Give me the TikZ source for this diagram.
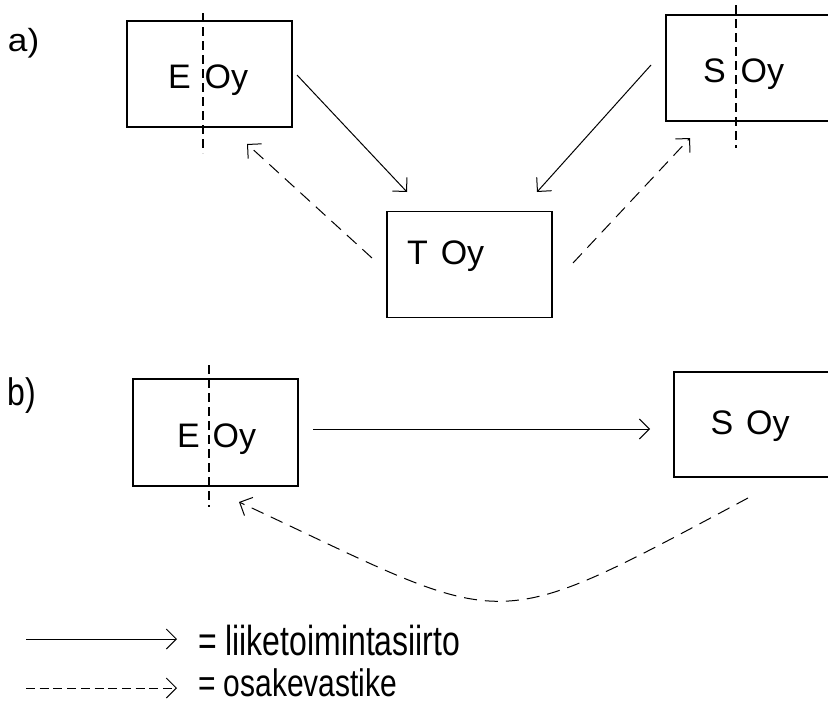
\documentclass[tikz,border=0pt]{standalone}
\usepackage{fontspec}
\setmainfont{Liberation Sans}
\usetikzlibrary{arrows.meta}
\begin{document}
\begin{tikzpicture}[x=1pt,y=-1pt,
  box/.style={draw, line width=1.4pt, inner sep=0pt, outer sep=0pt, minimum width=165pt, minimum height=106pt},
  lbl/.style={inner sep=0pt, outer sep=0pt, anchor=base west, font=\fontsize{32}{38}\selectfont},
  boxtext/.style={lbl, font=\fontsize{34}{40}\selectfont},
  divider/.style={line width=1.1pt, dash pattern=on 9pt off 5pt},
  flow/.style={line width=1pt, -{Straight Barb[length=10pt,width=20pt,line width=1pt]}},
  share/.style={flow, dash pattern=on 13pt off 8pt},
  legshare/.style={flow, dash pattern=on 9pt off 4.7pt}]
\useasboundingbox (0,0) rectangle (828,704);
\fill[white] (0,0) rectangle (828,704);

% section labels
\node[lbl] (la) at (8,51) {\scalebox{1.1}[1]{a)}};
\node[lbl] (lb) at (8,405) {\scalebox{1}[1.2]{b)}};

% a) boxes
\node[box] (ea) at (209.5,74) {};
\node[box, minimum width=166pt] (sa) at (749,68) {};
\node[box] (ta) at (469.5,264.5) {};
\draw[divider] (203,13) -- (203,153);
\draw[divider] (736,5) -- (736,148);
\node[boxtext] (eat) at (168,88) {E\hspace{14pt}Oy};
\node[boxtext] (sat) at (703,82) {S\hspace{15pt}Oy};
\node[boxtext] (tat) at (407,264) {T\hspace{13pt}Oy};

% a) connectors
\coordinate (e2t0) at (297,75);  \coordinate (e2t1) at (407,192);
\coordinate (t2e0) at (372,258); \coordinate (t2e1) at (247,144);
\coordinate (s2t0) at (651,65);  \coordinate (s2t1) at (537,192);
\coordinate (t2s0) at (573,263); \coordinate (t2s1) at (690,138);
\draw[flow] (e2t0) -- (e2t1);
\draw[share] (t2e0) -- (t2e1);
\draw[flow] (s2t0) -- (s2t1);
\draw[share] (t2s0) -- (t2s1);

% b) boxes
\node[box, minimum height=107pt] (eb) at (215.5,432.5) {};
\node[box, minimum width=166pt, minimum height=105pt] (sb) at (757,424.5) {};
\draw[divider] (209,365) -- (209,507);
\node[boxtext] (ebt) at (177,447) {E\hspace{13pt}Oy};
\node[boxtext] (sbt) at (710.5,434) {S\hspace{13pt}Oy};

% b) connectors
\coordinate (e2s0) at (313,429); \coordinate (e2s1) at (650,429);
\coordinate (s2e0) at (748,498); \coordinate (s2e1) at (239,502);
\draw[flow] (e2s0) -- (e2s1);
\draw[share] (s2e0) .. controls (482,640) and (514,630) .. (s2e1);

% legend
\coordinate (l1a) at (26,639); \coordinate (l1b) at (177,639);
\coordinate (l2a) at (26,688); \coordinate (l2b) at (177,688);
\draw[flow] (l1a) -- (l1b);
\draw[legshare] (l2a) -- (l2b);
\node[lbl] (lt1) at (198,655) {\scalebox{1}[1.31]{= liiketoimintasiirto}};
\node[lbl, font=\fontsize{30}{36}\selectfont] (lt2) at (198,696) {\scalebox{1}[1.28]{= osakevastike}};
\end{tikzpicture}
\end{document}
